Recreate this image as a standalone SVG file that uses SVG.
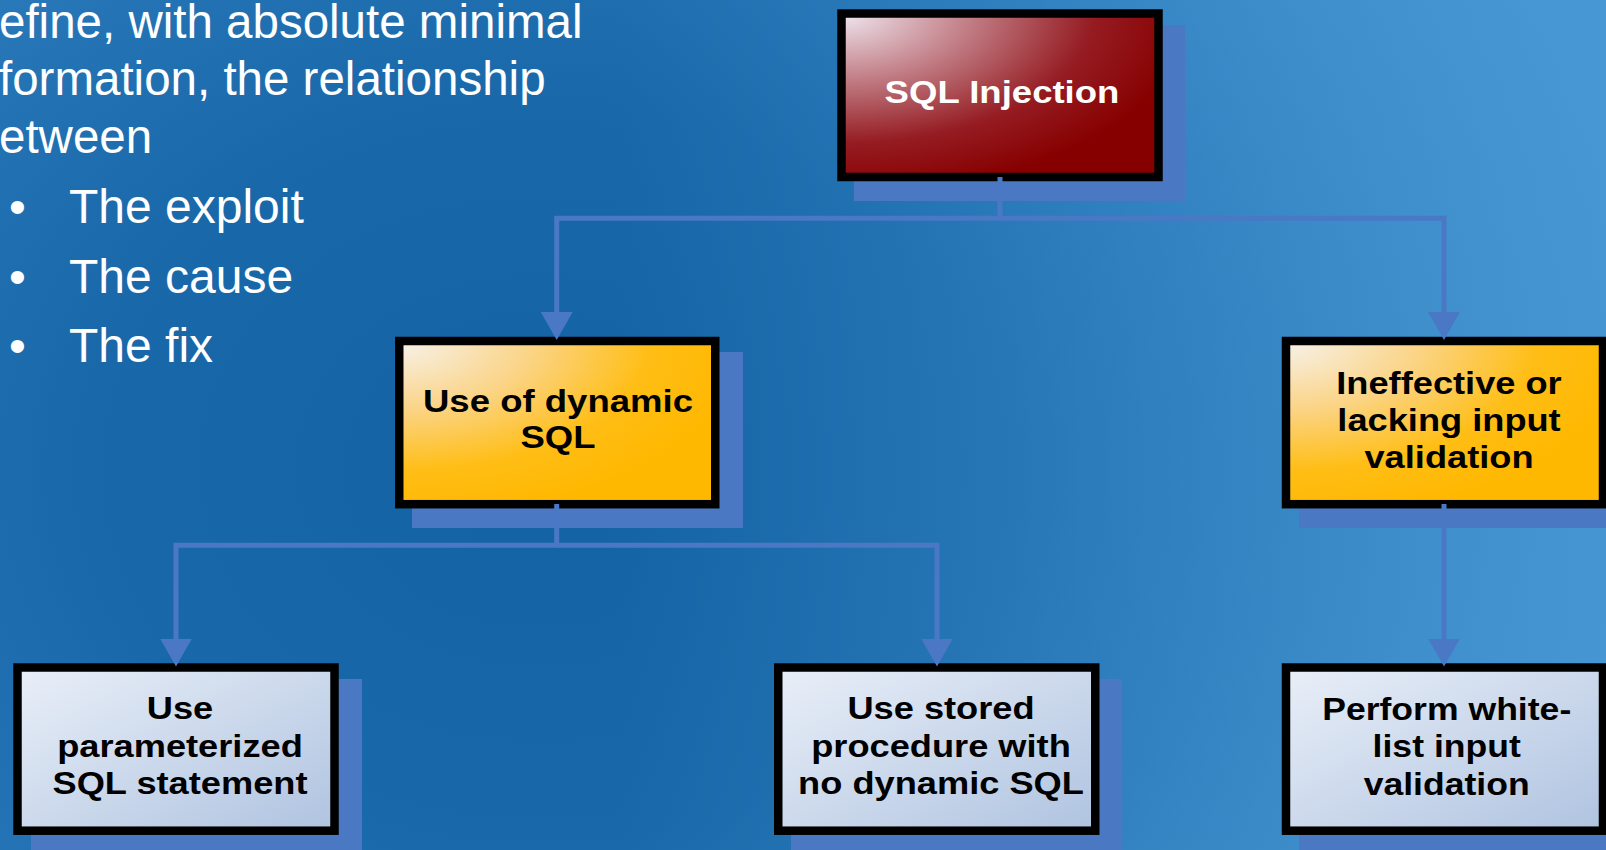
<svg xmlns="http://www.w3.org/2000/svg" width="1606" height="850" viewBox="0 0 1606 850">
<style>
.lt{font-family:"Liberation Sans",Arial,sans-serif;fill:#fff;font-size:47.5px}
.bl{font-family:"Liberation Sans",Arial,sans-serif;fill:#fff;font-size:48px}
.nt{font-family:"Liberation Sans",Arial,sans-serif;font-weight:bold;font-size:31.5px;text-anchor:middle;fill:#000}
.box{stroke:#000;stroke-width:8.5}
.sh{fill:#4a78c2}
.con{fill:none;stroke:#4a78c4;stroke-width:5}
</style>
<defs>
<radialGradient id="bg" gradientUnits="userSpaceOnUse" cx="540" cy="470" r="1150" gradientTransform="translate(540 470) scale(1 0.8) translate(-540 -470)">
<stop offset="0" stop-color="#1363a4"/>
<stop offset="0.4" stop-color="#1969aa"/>
<stop offset="0.62" stop-color="#2474b5"/>
<stop offset="0.85" stop-color="#3585c4"/>
<stop offset="1" stop-color="#4090cf"/>
</radialGradient>
<linearGradient id="bgr" gradientUnits="userSpaceOnUse" x1="620" y1="0" x2="1606" y2="0">
<stop offset="0" stop-color="#4a9ad6" stop-opacity="0"/>
<stop offset="1" stop-color="#4a9ad6" stop-opacity="0.7"/>
</linearGradient>
<radialGradient id="red" cx="0" cy="0" r="1.1" fx="0" fy="0">
<stop offset="0" stop-color="#efe7f0"/>
<stop offset="0.35" stop-color="#c4828a"/>
<stop offset="0.72" stop-color="#951c22"/>
<stop offset="1" stop-color="#870000"/>
</radialGradient>
<radialGradient id="yel" cx="0" cy="0" r="1.1" fx="0" fy="0">
<stop offset="0" stop-color="#f7f2ec"/>
<stop offset="0.38" stop-color="#fbd486"/>
<stop offset="0.72" stop-color="#ffbe16"/>
<stop offset="1" stop-color="#ffb800"/>
</radialGradient>
<linearGradient id="lb" x1="0" y1="0" x2="1" y2="1">
<stop offset="0" stop-color="#e9eff8"/>
<stop offset="1" stop-color="#afc3e0"/>
</linearGradient>
<marker id="ah" markerUnits="userSpaceOnUse" viewBox="0 0 28 32" markerWidth="28" markerHeight="32" refX="1" refY="16" orient="auto">
<path d="M0,0 L28,16 L0,32 z" fill="#4a78c4"/>
</marker>
</defs>
<rect x="0" y="0" width="1606" height="850" fill="url(#bg)"/>
<rect x="0" y="0" width="1606" height="850" fill="url(#bgr)"/>

<g id="intro">
<text class="lt" x="-1" y="38">efine, with absolute minimal</text>
<text class="lt" x="-1" y="95">formation, the relationship</text>
<text class="lt" x="-1" y="152.7">etween</text>
<text class="bl" x="9" y="222.7" font-size="44">•</text>
<text class="bl" x="69" y="222.7">The exploit</text>
<text class="bl" x="9" y="292.7" font-size="44">•</text>
<text class="bl" x="69" y="292.7">The cause</text>
<text class="bl" x="9" y="361.7" font-size="44">•</text>
<text class="bl" x="69" y="361.7">The fix</text>
</g>

<g id="n1">
<rect class="sh" x="854" y="25" width="331" height="176"/>
<rect class="box" x="841.5" y="13.5" width="317" height="163.5" fill="url(#red)"/>
<text class="nt" style="fill:#fff" font-size="32" transform="translate(1002,103) scale(1.16,1)">SQL Injection</text>
</g>

<g id="n2">
<rect class="sh" x="412" y="352" width="331" height="176"/>
<rect class="box" x="399.25" y="341" width="316" height="163.2" fill="url(#yel)"/>
<text class="nt" transform="translate(558,411.7) scale(1.16,1)"><tspan x="0" y="0">Use of dynamic</tspan><tspan x="0" y="36.6">SQL</tspan></text>
</g>

<g id="n3">
<rect class="sh" x="1299" y="352" width="331" height="176"/>
<rect class="box" x="1286" y="341" width="317" height="163.2" fill="url(#yel)"/>
<text class="nt" transform="translate(1449,394) scale(1.15,1)"><tspan x="0" y="0">Ineffective or</tspan><tspan x="0" y="37">lacking input</tspan><tspan x="0" y="74">validation</tspan></text>
</g>

<g id="n4">
<rect class="sh" x="31" y="679" width="331" height="176"/>
<rect class="box" x="17.5" y="667.5" width="317" height="163.2" fill="url(#lb)"/>
<text class="nt" transform="translate(180,719.3) scale(1.15,1)"><tspan x="0" y="0">Use</tspan><tspan x="0" y="37.4">parameterized</tspan><tspan x="0" y="75">SQL statement</tspan></text>
</g>

<g id="n5">
<rect class="sh" x="791" y="679" width="331" height="176"/>
<rect class="box" x="778.25" y="667.5" width="317" height="163.2" fill="url(#lb)"/>
<text class="nt" transform="translate(941,719.3) scale(1.15,1)"><tspan x="0" y="0">Use stored</tspan><tspan x="0" y="37.4">procedure with</tspan><tspan x="0" y="75">no dynamic SQL</tspan></text>
</g>

<g id="n6">
<rect class="sh" x="1299" y="679" width="331" height="176"/>
<rect class="box" x="1286" y="667.5" width="317" height="163.2" fill="url(#lb)"/>
<text class="nt" transform="translate(1446.7,720) scale(1.13,1)"><tspan x="0" y="0">Perform white-</tspan><tspan x="0" y="37.3">list input</tspan><tspan x="0" y="75">validation</tspan></text>
</g>

<g id="connectors">
<path class="con" d="M1000,177 V218.3 H556.7 V313" marker-end="url(#ah)"/>
<path class="con" d="M1000,218.3 H1444 V313" marker-end="url(#ah)"/>
<path class="con" d="M556.7,504 V545.3 H176 V639.5" marker-end="url(#ah)"/>
<path class="con" d="M556.7,545.3 H937 V639.5" marker-end="url(#ah)"/>
<path class="con" d="M1444,504 V639.5" marker-end="url(#ah)"/>
</g>
</svg>
